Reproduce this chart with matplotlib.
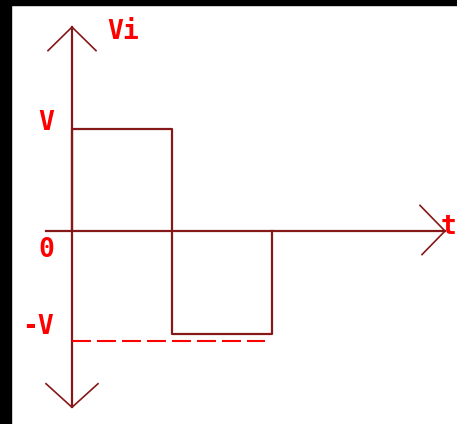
import matplotlib
matplotlib.use("Agg")
import matplotlib.pyplot as plt
from matplotlib.patches import Rectangle

# === DATA ===
V = 1.0
wave_t = [0, 0, 1, 1, 2, 2]
wave_v = [0, V, V, -V, -V, 0]
dash_t = [0, 1.93]
dash_v = [-1.07, -1.07]
y_axis_top, y_axis_bottom = 1.99, -1.72
x_axis_left, x_axis_right = -0.26, 3.73
labels = ["Vi", "V", "0", "-V", "t"]

LINE = "#851818"
TEXT = "#ff0000"

fig = plt.figure(figsize=(4.57, 4.24), dpi=100)
ax = fig.add_axes([0, 0, 1, 1])
# 100 px per time unit, 102.5 px per volt; origin at pixel (72, 231)
ax.set_xlim(-0.72, 3.85)
ax.set_ylim(-1.883, 2.254)
ax.axis("off")

lw = 1.6
# axes
ax.plot([0, 0], [y_axis_bottom, y_axis_top], color=LINE, lw=lw)
ax.plot([x_axis_left, x_axis_right], [0, 0], color=LINE, lw=lw)
# open arrow heads
ax.plot([-0.24, 0, 0.24], [y_axis_top - 0.23, y_axis_top, y_axis_top - 0.23], color=LINE, lw=1.2)
ax.plot([-0.26, 0, 0.26], [y_axis_bottom + 0.23, y_axis_bottom, y_axis_bottom + 0.23], color=LINE, lw=1.2)
ax.plot([x_axis_right - 0.25, x_axis_right, x_axis_right - 0.23], [0.25, 0, -0.23], color=LINE, lw=1.2)

# square wave
ax.plot(wave_t, wave_v, color=LINE, lw=lw)
# dashed -V reference
ax.plot(dash_t, dash_v, color=TEXT, lw=1.5, dashes=(9.1, 2.9))

font = dict(family="DejaVu Sans Mono", weight="bold", color=TEXT, fontsize=19)
ax.text(0.35, 1.94, labels[0], ha="left", va="center", **font)
ax.text(-0.18, 1.055, labels[1], ha="right", va="center", **font)
ax.text(-0.18, -0.19, labels[2], ha="right", va="center", **font)
ax.text(-0.18, -0.94, labels[3], ha="right", va="center", **font)
ax.text(3.845, 0.04, labels[4], ha="right", va="center", **font)

# black frame on left and top
fig.patches.append(Rectangle((0, 0), 11 / 457, 1, transform=fig.transFigure, color="black"))
fig.patches.append(Rectangle((0, 1 - 5 / 424), 1, 5 / 424, transform=fig.transFigure, color="black"))

fig.savefig("out.png", dpi=100)
